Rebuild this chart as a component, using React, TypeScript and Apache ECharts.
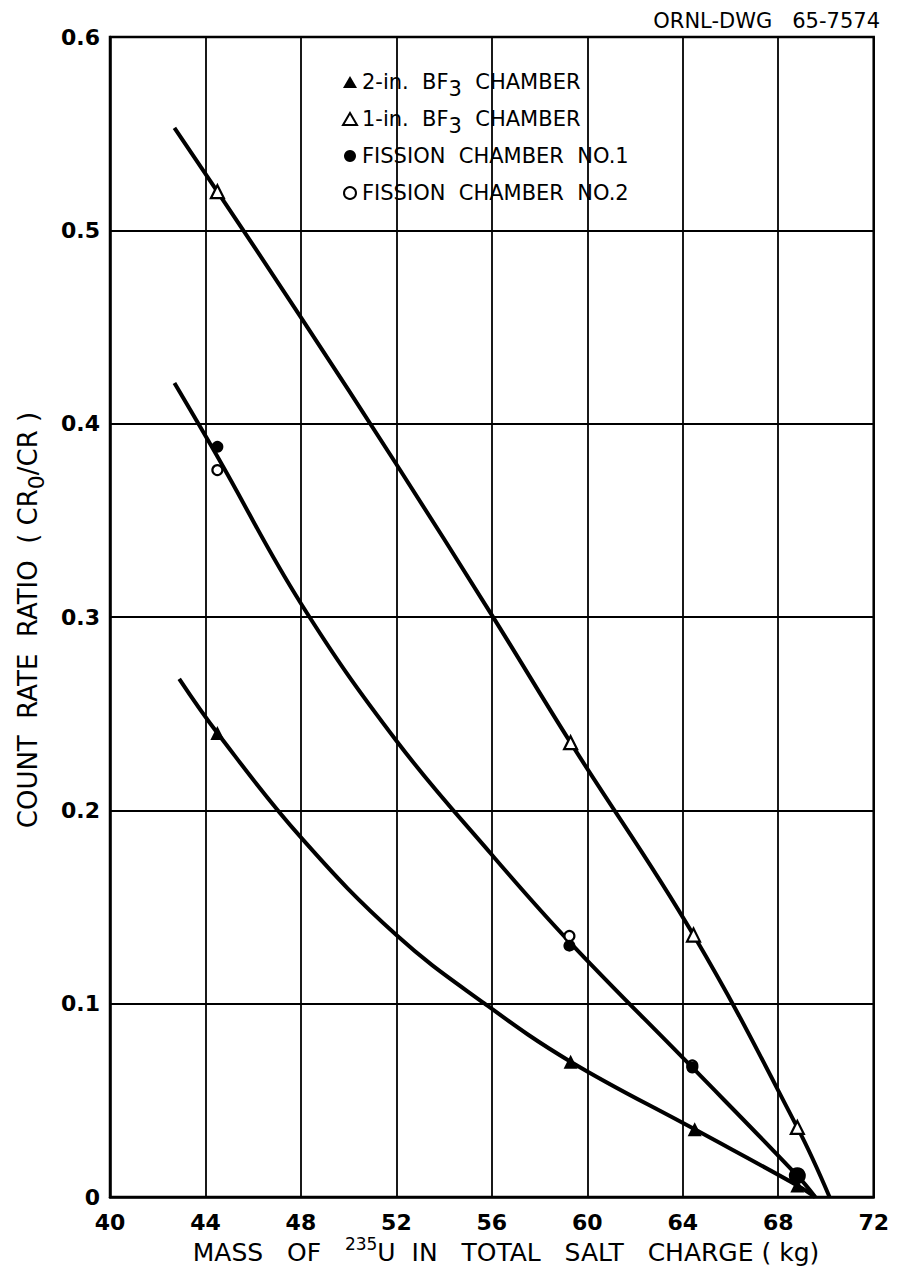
import React, { useEffect, useRef } from "react";
import * as echarts from "echarts";

// Measured points
const twoInX = [44.5, 59.3, 64.5, 68.8];
const twoInY = [0.24, 0.07, 0.035, 0.006];
const oneInX = [44.5, 59.3, 64.45, 68.8];
const oneInY = [0.52, 0.235, 0.1355, 0.036];
const fis1X = [44.5, 59.25, 64.4, 68.8];
const fis1Y = [0.388, 0.13, 0.067, 0.011];
const fis2X = [44.5, 59.25, 64.4];
const fis2Y = [0.376, 0.135, 0.068];

// Fitted curves
const curveOneX = [42.7, 44.5, 48, 52, 56, 59.3, 64.45, 68.8, 70.15];
const curveOneY = [0.553, 0.52, 0.455, 0.379, 0.301, 0.235, 0.1355, 0.036, 0];
const curveFisX = [42.7, 44.5, 48, 52, 56, 59.25, 64.4, 68.8, 69.55];
const curveFisY = [0.421, 0.383, 0.307, 0.236, 0.177, 0.132, 0.067, 0.011, 0];
const curveTwoX = [42.9, 44.5, 48, 52, 55.7, 59.3, 64.5, 68.8, 69.55];
const curveTwoY = [0.268, 0.24, 0.186, 0.1355, 0.1, 0.07, 0.035, 0.006, 0];

const xTicks = { min: 40, max: 72, interval: 4 };
const yTicks = { min: 0, max: 0.6, interval: 0.1 };

const seriesNames = [
  "2-in.  BF{sub|3}  CHAMBER",
  "1-in.  BF{sub|3}  CHAMBER",
  "FISSION  CHAMBER  NO.1",
  "FISSION  CHAMBER  NO.2",
];

const FONT = "DejaVu Sans";

const zip = (xs: number[], ys: number[]) => xs.map((x, i) => [x, ys[i]]);

export default function App() {
  const ref = useRef<HTMLDivElement>(null);
  useEffect(() => {
    if (!ref.current) return;
    const chart = echarts.init(ref.current, undefined, { renderer: "svg" });
    const curve = (xs: number[], ys: number[]) => ({
      type: "line",
      data: zip(xs, ys),
      smooth: 0.4,
      showSymbol: false,
      silent: true,
      lineStyle: { color: "#000", width: 4 },
      z: 3,
    });
    chart.setOption({
      animation: false,
      backgroundColor: "#fff",
      grid: {
        left: 102,
        right: 12,
        top: 29,
        bottom: 76,
        show: true,
        borderColor: "#000",
        borderWidth: 2.5,
        containLabel: false,
      },
      legend: {
        data: seriesNames,
        orient: "vertical",
        left: 329,
        top: 51,
        itemGap: 1,
        itemWidth: 14,
        itemHeight: 12,
        textStyle: {
          fontFamily: FONT,
          fontSize: 21,
          lineHeight: 36,
          color: "#000",
          rich: {
            sub: {
              fontFamily: FONT,
              fontSize: 21,
              lineHeight: 22,
              color: "#000",
              padding: [14, 0, 0, 0],
            },
          },
        },
        selectedMode: false,
      },
      xAxis: {
        type: "value",
        ...xTicks,
        axisLine: { show: true, lineStyle: { color: "#000", width: 2.5 } },
        axisTick: { show: false },
        splitLine: { show: true, lineStyle: { color: "#000", width: 1.8 } },
        axisLabel: {
          fontFamily: FONT,
          fontSize: 22,
          fontWeight: "bold",
          color: "#000",
          margin: 14,
        },
      },
      yAxis: {
        type: "value",
        ...yTicks,
        axisLine: { show: true, lineStyle: { color: "#000", width: 2.5 } },
        axisTick: { show: false },
        splitLine: { show: true, lineStyle: { color: "#000", width: 1.8 } },
        axisLabel: {
          fontFamily: FONT,
          fontSize: 22,
          fontWeight: "bold",
          color: "#000",
          margin: 10,
          formatter: (v: number) => (v === 0 ? "0" : v.toFixed(1)),
        },
      },
      graphic: [
        {
          type: "text",
          right: 12,
          top: 2,
          style: {
            text: "ORNL-DWG   65-7574",
            fontFamily: FONT,
            fontSize: 21,
            fill: "#000",
          },
        },
        {
          type: "text",
          x: 20,
          y: 612,
          rotation: Math.PI / 2,
          style: {
            text: "COUNT  RATE  RATIO  ( CR{sub|0}/CR )",
            fontFamily: FONT,
            fontSize: 26,
            fill: "#000",
            align: "center",
            verticalAlign: "middle",
            rich: {
              sub: {
                fontFamily: FONT,
                fontSize: 22,
                fill: "#000",
                padding: [16, 0, 0, 0],
              },
            },
          },
        },
        {
          type: "text",
          x: 498,
          y: 1244,
          style: {
            text: "MASS   OF   {sup|235}U  IN   TOTAL   SALT   CHARGE ( kg)",
            fontFamily: FONT,
            fontSize: 25,
            fill: "#000",
            align: "center",
            verticalAlign: "middle",
            rich: {
              sup: {
                fontFamily: FONT,
                fontSize: 17,
                fill: "#000",
                padding: [0, 0, 16, 0],
              },
            },
          },
        },
      ],
      series: [
        curve(curveOneX, curveOneY),
        curve(curveFisX, curveFisY),
        curve(curveTwoX, curveTwoY),
        {
          name: seriesNames[0],
          type: "scatter",
          data: zip(twoInX, twoInY),
          symbol: "triangle",
          symbolSize: 14,
          itemStyle: { color: "#000", opacity: 1 },
          z: 5,
        },
        {
          name: seriesNames[1],
          type: "scatter",
          data: zip(oneInX, oneInY),
          symbol: "triangle",
          symbolSize: 13,
          itemStyle: { color: "#fff", borderColor: "#000", borderWidth: 2.2, opacity: 1 },
          z: 5,
        },
        {
          name: seriesNames[2],
          type: "scatter",
          data: zip(fis1X, fis1Y),
          symbol: "circle",
          symbolSize: (_v: any, p: any) => (p.dataIndex === 3 ? 17 : 12),
          itemStyle: { color: "#000", opacity: 1 },
          z: 6,
        },
        {
          name: seriesNames[3],
          type: "scatter",
          data: zip(fis2X, fis2Y),
          symbol: "circle",
          symbolSize: 10,
          itemStyle: { color: "#fff", borderColor: "#000", borderWidth: 2.2, opacity: 1 },
          z: 5,
        },
      ],
    });
    return () => chart.dispose();
  }, []);
  return <div ref={ref} style={{ width: 884, height: 1265 }} />;
}
